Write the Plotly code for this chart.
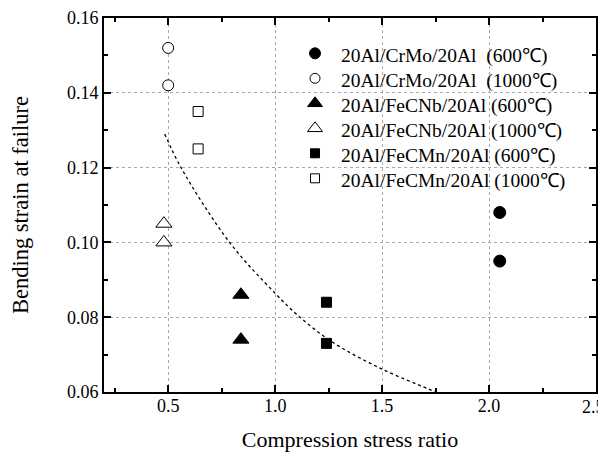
import plotly.graph_objects as go

# Data
crmo600_x = [2.05, 2.05]
crmo600_y = [0.108, 0.095]
crmo1000_x = [0.50, 0.50]
crmo1000_y = [0.152, 0.142]
fecnb600_x = [0.84, 0.84]
fecnb600_y = [0.086, 0.074]
fecnb1000_x = [0.48, 0.48]
fecnb1000_y = [0.105, 0.100]
fecmn600_x = [1.24, 1.24]
fecmn600_y = [0.084, 0.073]
fecmn1000_x = [0.64, 0.64]
fecmn1000_y = [0.135, 0.125]

# dotted trend curve
curve_x = [0.484, 0.56, 0.787, 1.0, 1.108, 1.266, 1.493, 1.713, 1.75]
curve_y = [0.129, 0.120, 0.100, 0.0864, 0.0804, 0.0734, 0.0663, 0.0609, 0.0600]

# axis tick labels
x_tickvals = [0.5, 1.0, 1.5, 2.0, 2.5]
x_ticktext = ["0.5", "1.0", "1.5", "2.0", ""]   # last label drawn separately so it fits
x_last_label = "2.5"

labels = [
    "20Al/CrMo/20Al\u00a0\u00a0(600\u2103)",
    "20Al/CrMo/20Al\u00a0\u00a0(1000\u2103)",
    "20Al/FeCNb/20Al\u00a0(600\u2103)",
    "20Al/FeCNb/20Al\u00a0(1000\u2103)",
    "20Al/FeCMn/20Al\u00a0(600\u2103)",
    "20Al/FeCMn/20Al\u00a0(1000\u2103)",
]

FONT = "Liberation Serif, Times New Roman, serif"

fig = go.Figure()

fig.add_trace(go.Scatter(x=curve_x, y=curve_y, mode="lines",
                         line=dict(color="black", width=1.3, dash="dot", shape="spline"),
                         showlegend=False, hoverinfo="skip"))

series = [
    (crmo600_x, crmo600_y, "circle", "black", 12),
    (crmo1000_x, crmo1000_y, "circle", "white", 11),
    (fecnb600_x, fecnb600_y, "triangle-up", "black", 14),
    (fecnb1000_x, fecnb1000_y, "triangle-up", "white", 14),
    (fecmn600_x, fecmn600_y, "square", "black", 10),
    (fecmn1000_x, fecmn1000_y, "square", "white", 10),
]
for (xs, ys, sym, fill, sz), lab in zip(series, labels):
    fig.add_trace(go.Scatter(x=xs, y=ys, mode="markers", name=lab, showlegend=False,
                             marker=dict(symbol=sym, color=fill, size=sz,
                                         line=dict(color="black", width=1))))

# Hand-made legend (overlay axes 0..1)
leg_x_marker = 0.4289
leg_x_text = 0.478
leg_top = 0.9056
leg_step = 25.0 / 374.0
for i, ((xs, ys, sym, fill, sz), lab) in enumerate(zip(series, labels)):
    yy = leg_top - i * leg_step
    fig.add_trace(go.Scatter(x=[leg_x_marker], y=[yy], mode="markers", xaxis="x2", yaxis="y2",
                             showlegend=False, hoverinfo="skip",
                             marker=dict(symbol=sym, color=fill, size=sz - 1,
                                         line=dict(color="black", width=1))))
    fig.add_annotation(x=leg_x_text, y=yy - 0.006, xref="paper", yref="paper",
                       text=lab, showarrow=False, xanchor="left", yanchor="middle",
                       font=dict(family=FONT, size=19.5, color="black"))

fig.add_annotation(x=1.0, y=0, xref="paper", yref="paper", text=x_last_label,
                   showarrow=False, xanchor="right", yanchor="middle", xshift=10, yshift=-15,
                   borderpad=0,
                   font=dict(family=FONT, size=18, color="black"))

axis_common = dict(
    showline=True, linewidth=2, linecolor="black", mirror="ticks",
    ticks="inside", ticklen=7, tickwidth=1.5, tickcolor="black",
    showgrid=True, gridcolor="#a8a8a8", griddash="dot", gridwidth=1,
    zeroline=False, automargin=False, ticklabeloverflow="allow",
    tickfont=dict(family=FONT, size=18, color="black"),
)

fig.update_layout(
    width=598, height=444,
    margin=dict(l=96, r=10, t=10, b=60),
    paper_bgcolor="white", plot_bgcolor="white",
    font=dict(family=FONT, color="black"),
    showlegend=False,
    xaxis=dict(range=[0.2, 2.5], tickmode="array", tickvals=x_tickvals, ticktext=x_ticktext,
               ticklabelstandoff=-4,
               minor=dict(ticks="inside", ticklen=4, tickcolor="black", dtick=0.25, tick0=0.25, showgrid=False),
               title=dict(text="Compression stress ratio", font=dict(family=FONT, size=22), standoff=21),
               **axis_common),
    yaxis=dict(range=[0.06, 0.16], tick0=0.06, dtick=0.02, tickformat=".2f",
               minor=dict(ticks="inside", ticklen=4, tickcolor="black", dtick=0.01, showgrid=False),
               title=dict(text="Bending strain at failure", font=dict(family=FONT, size=22.5), standoff=35),
               **axis_common),
    xaxis2=dict(overlaying="x", range=[0, 1], visible=False, fixedrange=True),
    yaxis2=dict(overlaying="y", range=[0, 1], visible=False, fixedrange=True),
)

fig.write_html("out.html")
